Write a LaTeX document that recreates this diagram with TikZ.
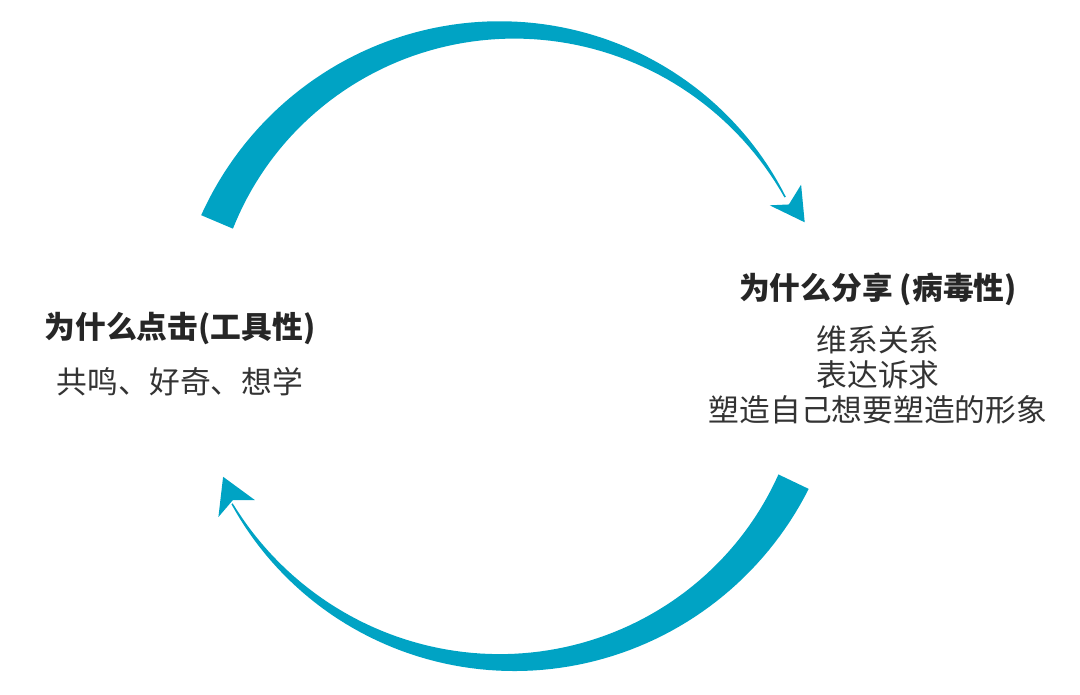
\documentclass[tikz,border=0pt]{standalone}
\usepackage{fontspec}
\setmainfont{Noto Sans CJK SC}
\usetikzlibrary{positioning,calc}
\definecolor{arcblue}{RGB}{0,163,196}
\tikzset{
  title/.style={font=\fontsize{17.5}{21}\selectfont\bfseries, text=black!85},
  body/.style={font=\fontsize{17.5}{21}\selectfont, text=black!80, align=center},
}
\begin{document}
\begin{tikzpicture}
\useasboundingbox (0,0) rectangle (21.6,13.88);
\coordinate (c) at (10.14,6.98);
% top arc, thick to thin
\fill[arcblue] plot[domain=157:28,samples=80]
  ({10.14+(6.3+(0.03+0.66*(\x-28)/129)/2)*cos(\x)},{6.98+(6.3+(0.03+0.66*(\x-28)/129)/2)*sin(\x)})
  -- plot[domain=28:157,samples=80]
  ({10.14+(6.3-(0.03+0.66*(\x-28)/129)/2)*cos(\x)},{6.98+(6.3-(0.03+0.66*(\x-28)/129)/2)*sin(\x)})
  -- cycle;
\fill[arcblue] ($(c)+(28.6:6.7)$) -- ($(c)+(22.4:6.44)$) -- ($(c)+(28:5.95)$) -- ($(c)+(26.5:6.3)$) -- cycle;
% bottom arc, thick to thin
\fill[arcblue] plot[domain=-25.5:-150,samples=80]
  ({10.14+(6.35+(0.03+0.64*(\x+150)/124.5)/2)*cos(\x)},{6.98+(6.35+(0.03+0.64*(\x+150)/124.5)/2)*sin(\x)})
  -- plot[domain=-150:-25.5,samples=80]
  ({10.14+(6.35-(0.03+0.64*(\x+150)/124.5)/2)*cos(\x)},{6.98+(6.35-(0.03+0.64*(\x+150)/124.5)/2)*sin(\x)})
  -- cycle;
\fill[arcblue] ($(c)+(210.8:6.72)$) -- ($(c)+(204.9:6.26)$) -- ($(c)+(211.6:5.92)$) -- ($(c)+(209.5:6.3)$) -- cycle;
% texts
\node[title] (click) at (3.6,7.3) {为什么点击(工具性)};
\node[body, below=0.2cm of click] (clickwhy) {共鸣、好奇、想学};
\node[title] (share) at (17.56,8.1) {为什么分享 (病毒性)};
\node[body, below=0.15cm of share, font=\fontsize{17.5}{20}\selectfont] (sharewhy) {维系关系\\表达诉求\\塑造自己想要塑造的形象};
\end{tikzpicture}
\end{document}
